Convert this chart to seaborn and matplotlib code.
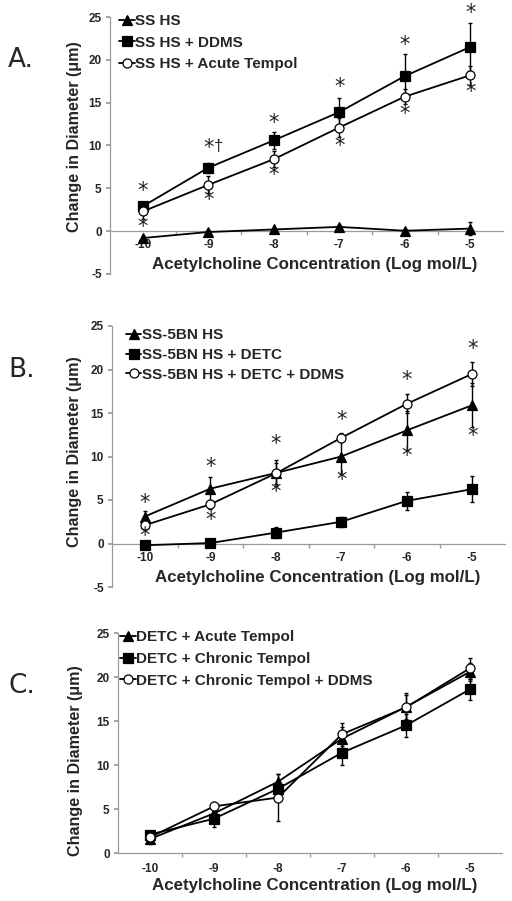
import numpy as np
import pandas as pd
import matplotlib
matplotlib.use("Agg")
import matplotlib.pyplot as plt
import seaborn as sns

# ---- data ----
conc_labels = ["-10", "-9", "-8", "-7", "-6", "-5"]

# Panel A
a_names = ["SS HS", "SS HS + DDMS", "SS HS + Acute Tempol"]
a_ss_hs = [-0.8, -0.1, 0.2, 0.5, 0.05, 0.3]
a_ss_hs_err = [0.2, 0.2, 0.2, 0.2, 0.2, 0.8]
a_ddms = [2.9, 7.4, 10.6, 13.9, 18.1, 21.5]
a_ddms_err = [0.3, 0.6, 1.0, 1.7, 2.6, 2.8]
a_tempol = [2.3, 5.4, 8.4, 12.1, 15.7, 18.2]
a_tempol_err = [0.9, 1.0, 0.9, 1.1, 0.9, 1.1]
a_star_x = [0, 0, 1, 1, 2, 2, 3, 3, 4, 4, 5, 5]
a_star_y = [4.7, 0.45, 9.7, 3.6, 12.6, 6.6, 16.8, 9.9, 21.7, 13.7, 25.5, 16.2]

# Panel B
b_names = ["SS-5BN HS", "SS-5BN HS + DETC", "SS-5BN HS + DETC + DDMS"]
b_ss5bn = [3.1, 6.3, 8.1, 10.0, 13.0, 15.9]
b_ss5bn_err = [0.6, 1.4, 1.5, 2.0, 2.2, 2.5]
b_detc = [-0.2, 0.05, 1.25, 2.5, 4.9, 6.25]
b_detc_err = [0.2, 0.1, 0.65, 0.6, 1.0, 1.5]
b_ddms = [2.1, 4.5, 8.05, 12.15, 16.05, 19.5]
b_ddms_err = [0.5, 0.5, 1.2, 0.5, 1.1, 1.4]
b_star_x = [0, 0, 1, 1, 2, 2, 3, 3, 4, 4, 5, 5]
b_star_y = [4.7, 0.9, 8.8, 2.7, 11.4, 5.9, 14.2, 7.3, 18.8, 10.0, 22.4, 12.3]

# Panel C
c_names = ["DETC + Acute Tempol", "DETC + Chronic Tempol", "DETC + Chronic Tempol + DDMS"]
c_acute = [1.6, 4.5, 8.1, 13.0, 16.6, 20.6]
c_acute_err = [0.6, 0.5, 0.9, 1.3, 1.4, 1.0]
c_chronic = [2.1, 3.9, 7.3, 11.4, 14.5, 18.6]
c_chronic_err = [0.4, 1.0, 0.9, 1.4, 1.3, 1.2]
c_ddms = [1.8, 5.3, 6.3, 13.5, 16.55, 21.0]
c_ddms_err = [0.5, 0.5, 2.7, 1.3, 1.6, 1.2]

sns.set_theme(style="white")
plt.rcParams['font.family'] = ['Liberation Sans', 'DejaVu Sans']
plt.rcParams['axes.unicode_minus'] = False

W, H = 512, 901
fig = plt.figure(figsize=(W / 100, H / 100), dpi=100)

def px_axes(left, right, top, bottom):
    return fig.add_axes([left / W, 1 - bottom / H, (right - left) / W, (bottom - top) / H])

markers = ["^", "s", "o"]
faces = ["black", "black", "white"]
xpos = np.arange(len(conc_labels))

def draw_panel(ax, names, series, errs, ymin, ylab_xy, xlab_xy, leg_xy, xpad, lspace):
    for name, vals, err, m, fc in zip(names, series, errs, markers, faces):
        ax.errorbar(xpos, vals, yerr=err, fmt="none", ecolor="black",
                    elinewidth=1.0, capsize=1.5, capthick=1.0, zorder=2)
        df = pd.DataFrame({"x": xpos, "y": vals})
        sns.lineplot(data=df, x="x", y="y", ax=ax, color="black", linewidth=1.3,
                     marker=m, markersize=6.5 if m != "^" else 7,
                     markerfacecolor=fc, markeredgecolor="black",
                     markeredgewidth=0.9, label=name, zorder=3)
    ax.set_xlim(-0.5, 5.5)
    ax.set_ylim(ymin, 25)
    ax.set_yticks(np.arange(ymin, 26, 5))
    ax.set_xticks(xpos)
    ax.set_xticklabels(conc_labels)
    ax.set_xticks(np.arange(0.5, 5, 1), minor=True)
    for s in ["top", "right"]:
        ax.spines[s].set_visible(False)
    for s in ["left", "bottom"]:
        ax.spines[s].set_color("#9a9a9a")
        ax.spines[s].set_linewidth(0.9)
    ax.spines["bottom"].set_position(("data", 0))
    ax.tick_params(axis="x", which="major", length=0, pad=xpad, labelsize=8.5)
    ax.tick_params(axis="x", which="minor", length=3, direction="out",
                   color="#9a9a9a", bottom=True)
    ax.tick_params(axis="y", length=3, direction="out", color="#9a9a9a",
                   left=True, pad=3, labelsize=8.5)
    for lab in ax.get_xticklabels() + ax.get_yticklabels():
        lab.set_fontweight("bold")
    ax.set_xlabel("Acetylcholine Concentration (Log mol/L)", fontsize=12.2, fontweight="bold")
    ax.set_ylabel("Change in Diameter (\u03bcm)", fontsize=11.6, fontweight="bold")
    ax.xaxis.set_label_coords(*xlab_xy)
    ax.yaxis.set_label_coords(*ylab_xy)
    ax.legend(loc="upper left", bbox_to_anchor=leg_xy, frameon=False,
              prop={"weight": "bold", "size": 11}, handlelength=1.0,
              handletextpad=0.05, labelspacing=lspace, borderaxespad=0)

def stars(ax, xs, ys):
    for x, y in zip(xs, ys):
        ax.text(x, y, "*", ha="center", va="center", fontsize=15,
                family="DejaVu Sans", color="#222222", zorder=4)

ax_a = px_axes(110, 503, 17, 274)
draw_panel(ax_a, a_names, [a_ss_hs, a_ddms, a_tempol],
           [a_ss_hs_err, a_ddms_err, a_tempol_err], -5,
           (-0.071, 0.533), (0.52, 0.066), (0.008, 1.035), 6, 0.5)
stars(ax_a, a_star_x, a_star_y)
ax_a.text(1.15, 9.9, "\u2020", ha="center", va="center", fontsize=12, color="#222222")

ax_b = px_axes(112, 505, 326, 587)
draw_panel(ax_b, b_names, [b_ss5bn, b_detc, b_ddms],
           [b_ss5bn_err, b_detc_err, b_ddms_err], -5,
           (-0.076, 0.517), (0.524, 0.065), (0.02, 1.015), 6, 0.38)
stars(ax_b, b_star_x, b_star_y)

ax_c = px_axes(118, 502, 633, 853)
draw_panel(ax_c, c_names, [c_acute, c_chronic, c_ddms],
           [c_acute_err, c_chronic_err, c_ddms_err], 0,
           (-0.091, 0.42), (0.512, -0.114), (-0.01, 1.04), 7, 0.5)

for lab, y in [("A.", 60), ("B.", 370), ("C.", 686)]:
    fig.text(8 / W, 1 - y / H, lab, fontsize=19, ha="left", va="center",
             family="DejaVu Sans")

fig.savefig("out.png", dpi=100)
